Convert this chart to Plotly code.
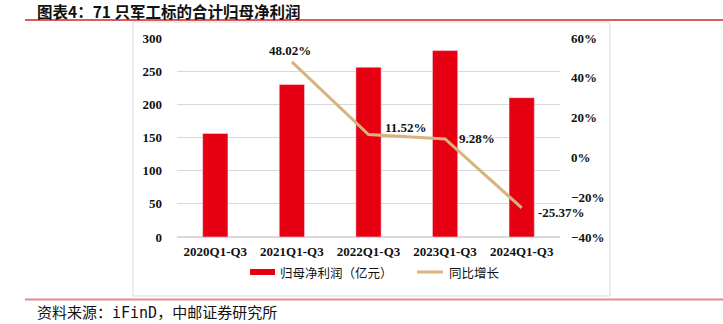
import plotly.graph_objects as go

categories = ["2020Q1-Q3", "2021Q1-Q3", "2022Q1-Q3", "2023Q1-Q3", "2024Q1-Q3"]
profit = [156, 230, 256, 281, 210]
growth_cats = ["2021Q1-Q3", "2022Q1-Q3", "2023Q1-Q3", "2024Q1-Q3"]
growth = [48.02, 11.52, 9.28, -25.37]
growth_labels = ["48.02%", "11.52%", "9.28%", "-25.37%"]

BAR = "#E60012"
LINE = "#D9B37E"
SERIF = "Liberation Serif"
CJK = "Noto Sans CJK SC"

W, H = 723, 324
L, R, T, B = 177, 560, 38, 237
pw, ph = R - L, B - T


def px(x):
    return (x - L) / pw


def py(y):
    return (B - y) / ph


fig = go.Figure()
fig.add_trace(go.Bar(x=categories, y=profit, marker_color=BAR, name="归母净利润（亿元）",
                     yaxis="y", showlegend=False))
fig.add_trace(go.Scatter(x=growth_cats, y=growth, mode="lines", yaxis="y2",
                         line=dict(color=LINE, width=3),
                         name="同比增长", showlegend=False, cliponaxis=False))

shapes = [
    # chart box
    dict(type="rect", xref="paper", yref="paper", x0=px(133), x1=px(610), y0=py(296), y1=py(22),
         line=dict(color="#D9D9D9", width=1), layer="below"),
    # red rules
    dict(type="line", xref="paper", yref="paper", x0=px(25), x1=px(723), y0=py(20), y1=py(20),
         line=dict(color="#D2232A", width=1.5)),
    dict(type="line", xref="paper", yref="paper", x0=px(25), x1=px(723), y0=py(299.5), y1=py(299.5),
         line=dict(color="#E88A8A", width=2)),
    # legend symbols
    dict(type="rect", xref="paper", yref="paper", x0=px(250), x1=px(275), y0=py(275), y1=py(269),
         fillcolor=BAR, line=dict(width=0)),
    dict(type="line", xref="paper", yref="paper", x0=px(417), x1=px(443), y0=py(272), y1=py(272),
         line=dict(color=LINE, width=3)),
]

annotations = [
    dict(text="<b>图表4：71 只军工标的合计归母净利润</b>", xref="paper", yref="paper",
         x=px(35), y=py(11), xanchor="left", yanchor="middle", showarrow=False,
         font=dict(family=CJK, size=15.5, color="#111")),
    dict(text="资料来源：iFinD，中邮证券研究所", xref="paper", yref="paper",
         x=px(35), y=py(313), xanchor="left", yanchor="middle", showarrow=False,
         font=dict(family="DejaVu Sans Mono, " + CJK, size=15, color="#111")),
    dict(text="归母净利润（亿元）", xref="paper", yref="paper",
         x=px(278), y=py(272), xanchor="left", yanchor="middle", showarrow=False,
         font=dict(family=CJK, size=12.5, color="#111")),
    dict(text="同比增长", xref="paper", yref="paper",
         x=px(447), y=py(272), xanchor="left", yanchor="middle", showarrow=False,
         font=dict(family=CJK, size=12.5, color="#111")),
]

# data labels for growth line (offsets in pixels relative to each point)
label_offsets = [("center", -2, 11), ("left", 14, 7), ("left", 12, 0), ("left", 14, -5)]
for cat, val, lab, (anc, dx, dy) in zip(growth_cats, growth, growth_labels, label_offsets):
    annotations.append(dict(text="<b>" + lab + "</b>", xref="x", yref="y2", x=cat, y=val,
                            xanchor=anc, yanchor="middle", xshift=dx, yshift=dy,
                            showarrow=False,
                            font=dict(family=SERIF, size=13, color="#111")))

fig.update_layout(
    width=W, height=H,
    margin=dict(l=L, r=W - R, t=T, b=H - B, pad=0),
    paper_bgcolor="white", plot_bgcolor="white",
    bargap=0.67,
    showlegend=False,
    shapes=shapes,
    annotations=annotations,
    xaxis=dict(type="category", categoryarray=categories, range=[-0.5, len(categories) - 0.5],
               autorange=False, showgrid=False, showline=False,
               ticks="", tickfont=dict(family=SERIF, size=13, color="#111", weight="bold"),
               ticklabelstandoff=5),
    yaxis=dict(range=[0, 300], autorange=False, dtick=50, showgrid=True, gridcolor="#D9D9D9",
               gridwidth=1, zeroline=True, zerolinecolor="#D9D9D9", showline=False, ticks="",
               tickfont=dict(family=SERIF, size=13, color="#111", weight="bold"),
               ticklabelstandoff=14),
    yaxis2=dict(range=[-40, 60], autorange=False, dtick=20, overlaying="y", side="right",
                showgrid=False, zeroline=False, showline=False, ticks="", ticksuffix="%",
                tickfont=dict(family=SERIF, size=13, color="#111", weight="bold"),
                ticklabelstandoff=10),
)

fig.write_html("out.html")
